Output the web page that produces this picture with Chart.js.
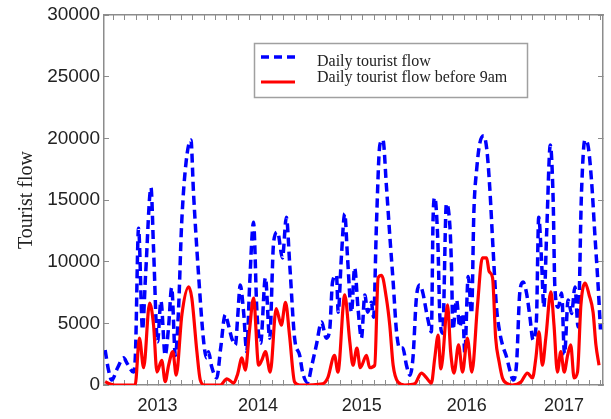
<!DOCTYPE html>
<html>
<head>
<meta charset="utf-8">
<script src="https://cdn.jsdelivr.net/npm/chart.js@4.4.1/dist/chart.umd.min.js"></script>
<style>
html,body{margin:0;padding:0;background:#fff;}
#wrap{width:611px;height:419px;}
</style>
</head>
<body>
<div id="wrap"><canvas id="c" width="611" height="419"></canvas></div>
<script>
// x in ten-day periods from the start of the record
const blueX = [0.4,1.6,2.7,4.8,6.9,8.3,10.4,11.1,12.2,13.6,14.7,16.6,17.5,18.9,20.1,21.6,22.8,23.9,25.2,26.3,27.4,29.0,30.7,31.6,33.4,35.2,36.2,36.9,38.0,39.8,41.2,42.8,44.0,45.1,46.4,47.2,48.1,49.3,50.4,51.4,52.8,54.0,55.3,57.0,58.5,59.9,61.3,63.0,64.4,65.6,67.3,69.1,70.1,71.9,73.3,75.0,76.8,78.5,79.7,80.7,82.1,82.7,83.8,85.0,86.0,87.4,88.5,89.7,90.9,92.1,93.1,94.4,95.2,96.2,97.4,98.5,99.7,100.9,102.1,103.3,104.4,105.5,106.8,108.0,109.1,110.3,111.5,112.5,114.3,115.6,116.2,116.8,117.9,118.6,119.6,120.9,122.1,122.7,123.2,124.5,125.6,126.7,127.4,128.6,129.8,130.6,131.6,132.7,134.1,135.2,136.2,137.4,138.6,139.8,140.9,142.1,143.3,144.5,145.7,146.8,148.0,149.2,150.4,151.5,152.7,153.5,154.5,155.3,156.3,157.6,158.6,159.2,160.4,161.6,162.6,163.9,165.1,166.3,167.4,168.6,169.8,171.0,172.2,173.3,174.5,175.3];
const blueY = [2840,1200,400,1400,2200,1700,1050,2500,12700,4500,9000,16000,11000,3500,6800,2400,4700,7900,2400,6000,13000,18100,19860,15600,8900,3500,2200,2700,1500,570,3000,5700,4800,3800,3250,5500,8100,5900,2700,8000,13200,5900,3400,8700,3800,11600,12400,10300,13600,9700,3800,2400,1050,200,1500,3250,5100,3800,4500,8350,8900,5900,10300,13900,10300,5900,9500,6200,3800,7300,5900,6700,5500,13000,19460,19870,16200,12160,8350,4300,3000,3000,1600,800,2200,7050,8100,7550,5400,4300,13500,15200,11500,5500,4200,14700,13000,9600,4500,6900,4700,5800,2600,8800,5800,14000,17500,19600,20200,19050,16050,10950,6300,4200,3100,2300,1200,400,1800,7450,8350,7450,5500,3650,5300,13600,10100,6300,12300,19460,15000,7950,6300,7450,2500,6900,5800,7950,4700,15550,19870,19300,16400,12300,7950,4500];
const redX = [0.4,1.9,3.7,11.0,12.5,14.0,16.1,17.5,18.7,20.4,21.6,22.8,24.3,25.5,27.5,29.9,31.0,32.8,34.0,35.5,41.1,43.4,45.8,47.2,48.7,49.9,51.4,52.8,54.6,55.7,57.0,58.7,60.8,62.6,64.1,65.5,67.3,69.1,77.2,79.0,81.4,82.6,85.0,86.8,87.9,89.3,90.5,92.7,93.8,95.6,96.8,98.0,99.7,100.9,102.1,103.8,106.2,109.7,112.1,113.9,115.6,116.8,118.0,118.9,119.6,121.3,122.4,123.6,125.2,126.6,128.3,129.9,131.9,133.6,135.1,136.0,137.2,138.3,139.5,140.7,142.6,144.2,147.2,149.5,151.3,152.5,153.6,154.8,156.0,157.8,158.9,160.1,161.3,162.5,163.7,164.8,166.0,167.2,168.4,169.9,171.3,172.7,173.7,174.8];
const redY = [270,100,0,0,3800,1400,6650,4850,1050,2000,270,1600,2700,800,5700,7950,7050,2700,400,0,0,500,160,900,2200,1200,4500,7050,1600,2000,2700,1050,6200,4850,6700,4050,240,0,100,570,2400,1050,7300,3500,1600,3000,1400,2400,1400,1600,8700,8900,7050,4850,1600,240,0,100,970,570,160,2200,4050,1300,2200,6500,2700,970,3250,1050,3800,1050,6500,10300,10300,9200,8700,3800,1900,570,100,0,240,970,570,2200,4300,1600,3800,7550,4850,1050,2700,1050,2400,3250,570,1050,6500,8270,7300,5900,3250,1600];
const yearLabels = ['2013','2014','2015','2016','2017'];
const yearPos = [18.9,54.4,91.0,128.1,162.4];
const yTicks = [0,5000,10000,15000,20000,25000,30000];
const seriesNames = ['Daily tourist flow','Daily tourist flow before 9am'];

const X_MIN = 0, X_MAX = 176.2, MINOR_START = 3.4, MINOR_STEP = 4;
const minorTicks = [];
for (let v = MINOR_START; v < X_MAX; v += MINOR_STEP) minorTicks.push(+v.toFixed(2));

const frameColor = '#8c8c8c';
const isYear = v => yearPos.some(p => Math.abs(p - v) < 1e-6);

function xTicks(axis, withYears) {
  let vals = minorTicks.slice();
  if (withYears) vals = vals.concat(yearPos);
  vals.sort((a, b) => a - b);
  axis.ticks = vals.map(v => ({value: v}));
}
function noPad(a) { a.paddingTop = 0; a.paddingBottom = 0; a.paddingLeft = 0; a.paddingRight = 0; }

const legendBox = {
  id: 'legendBox',
  afterDraw(chart) {
    const ctx = chart.ctx;
    ctx.save();
    ctx.strokeStyle = '#a0a0a0';
    ctx.lineWidth = 1.5;
    ctx.strokeRect(254.5, 43.5, 273, 54);
    const items = [
      {ds: chart.data.datasets[0], ly: 57, ty: 66},
      {ds: chart.data.datasets[1], ly: 82, ty: 82}
    ];
    items.forEach(it => {
      ctx.beginPath();
      ctx.strokeStyle = it.ds.borderColor;
      ctx.lineWidth = it.ds.borderWidth;
      ctx.setLineDash(it.ds.borderDash && it.ds.borderDash.length ? [8, 5] : []);
      ctx.moveTo(261, it.ly);
      ctx.lineTo(295, it.ly);
      ctx.stroke();
      ctx.setLineDash([]);
      ctx.fillStyle = '#222';
      ctx.font = '16px "Liberation Serif", "Times New Roman", serif';
      ctx.textBaseline = 'alphabetic';
      ctx.textAlign = 'left';
      ctx.fillText(it.ds.label, 317, it.ty);
    });
    ctx.restore();
  }
};

new Chart(document.getElementById('c'), {
  type: 'line',
  data: {
    datasets: [
      {
        label: seriesNames[0],
        data: blueX.map((x, i) => ({x: x, y: blueY[i]})),
        borderColor: '#0000ff',
        borderWidth: 3.5,
        borderDash: [9, 5],
        pointRadius: 0,
        cubicInterpolationMode: 'monotone',
        fill: false,
        order: 1
      },
      {
        label: seriesNames[1],
        data: redX.map((x, i) => ({x: x, y: redY[i]})),
        borderColor: '#ff0000',
        borderWidth: 3.2,
        pointRadius: 0,
        cubicInterpolationMode: 'monotone',
        fill: false,
        order: 0
      }
    ]
  },
  options: {
    responsive: false,
    animation: false,
    devicePixelRatio: 1,
    layout: {padding: 0},
    plugins: {legend: {display: false}, tooltip: {enabled: false}},
    scales: {
      x: {
        type: 'linear', position: 'bottom', min: X_MIN, max: X_MAX,
        afterBuildTicks: a => xTicks(a, true),
        afterFit: a => { a.height = 34; noPad(a); },
        grid: {
          drawOnChartArea: false, drawTicks: true, tickLength: -5, tickWidth: 1,
          tickColor: c => (c.tick && isYear(c.tick.value)) ? 'rgba(0,0,0,0)' : frameColor
        },
        border: {display: true, color: frameColor, width: 1.5},
        ticks: {
          autoSkip: false, maxRotation: 0, minRotation: 0, padding: 15,
          color: '#222', font: {family: '"Liberation Sans", Arial, sans-serif', size: 18},
          callback: v => { const i = yearPos.findIndex(p => Math.abs(p - v) < 1e-6); return i >= 0 ? yearLabels[i] : ''; }
        }
      },
      xTop: {
        type: 'linear', position: 'top', min: X_MIN, max: X_MAX,
        afterBuildTicks: a => xTicks(a, false),
        afterFit: a => { a.height = 15; noPad(a); },
        grid: {drawOnChartArea: false, drawTicks: true, tickLength: -5, tickWidth: 1, tickColor: frameColor},
        border: {display: true, color: frameColor, width: 1.5},
        ticks: {display: false, autoSkip: false}
      },
      y: {
        type: 'linear', position: 'left', min: 0, max: 30000,
        afterBuildTicks: a => { a.ticks = yTicks.map(v => ({value: v})); },
        afterFit: a => { a.width = 104; noPad(a); },
        grid: {drawOnChartArea: false, drawTicks: true, tickLength: -5, tickWidth: 1, tickColor: frameColor},
        border: {display: true, color: frameColor, width: 1.5},
        ticks: {
          padding: 9, color: '#222',
          font: {family: '"Liberation Sans", Arial, sans-serif', size: 19},
          callback: v => String(v)
        },
        title: {
          display: true, text: 'Tourist flow', color: '#222',
          font: {family: '"Liberation Serif", "Times New Roman", serif', size: 20},
          padding: {top: 15, bottom: 0}
        }
      },
      yRight: {
        type: 'linear', position: 'right', min: 0, max: 30000,
        afterBuildTicks: a => { a.ticks = yTicks.map(v => ({value: v})); },
        afterFit: a => { a.width = 8; noPad(a); },
        grid: {drawOnChartArea: false, drawTicks: true, tickLength: -5, tickWidth: 1, tickColor: frameColor},
        border: {display: true, color: frameColor, width: 1.5},
        ticks: {display: false}
      }
    }
  },
  plugins: [legendBox]
});
</script>
</body>
</html>
